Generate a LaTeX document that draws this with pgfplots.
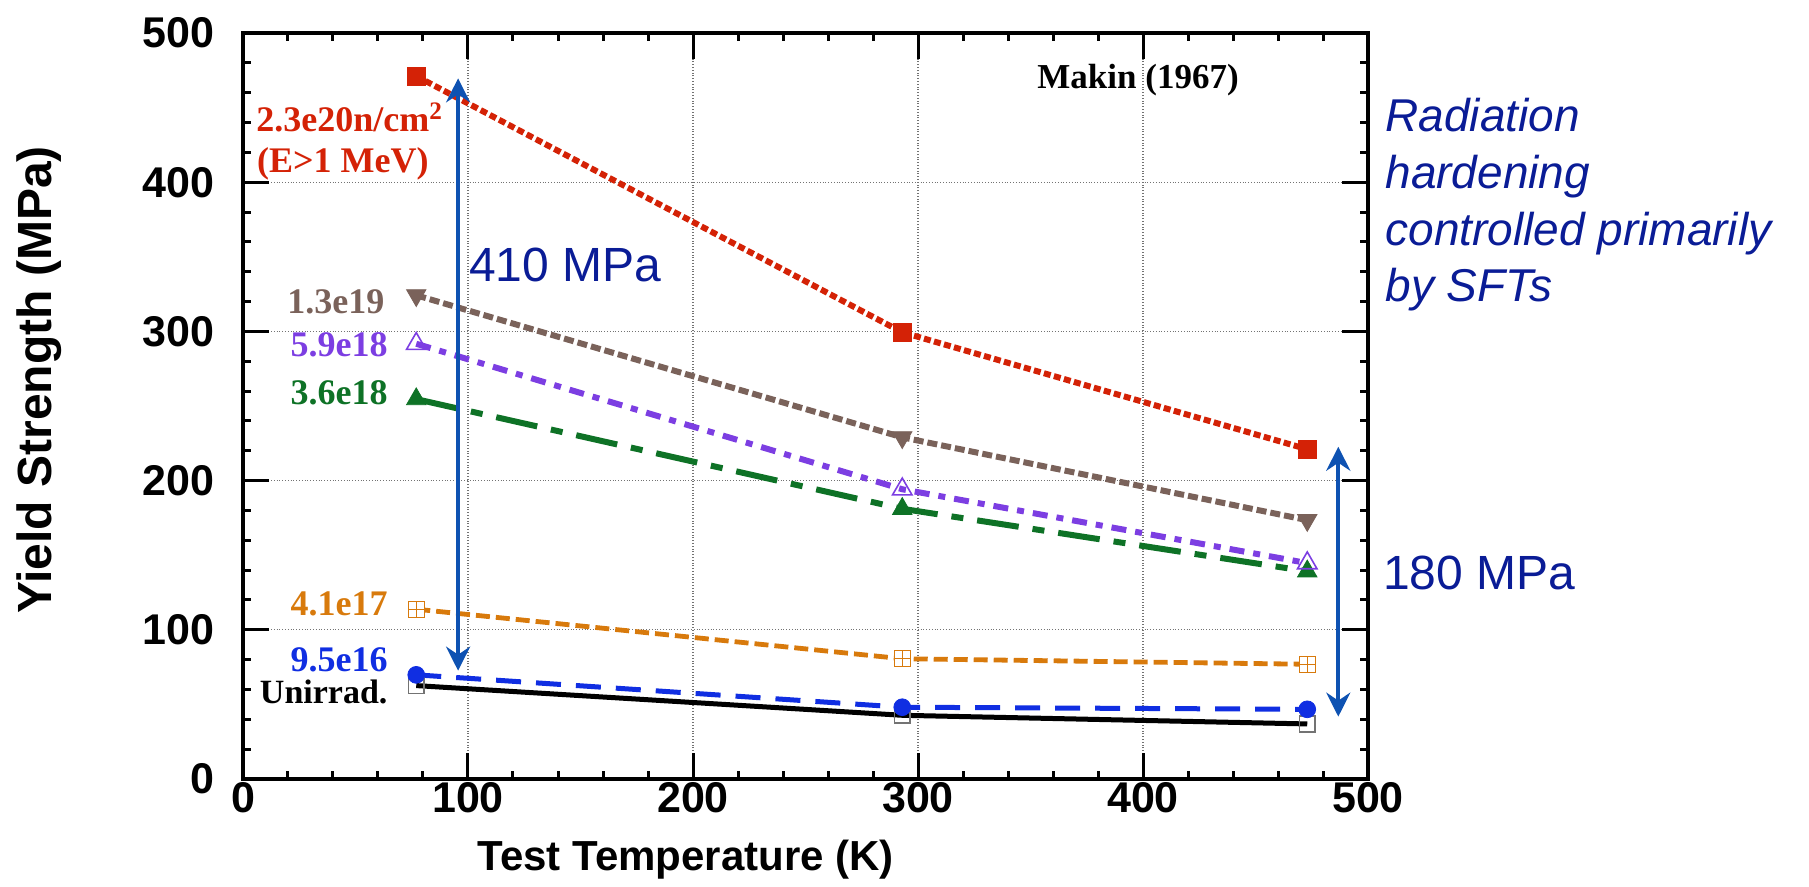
\documentclass[border=0pt]{standalone}
\usepackage{fontspec}
\setmainfont{Liberation Serif}
\setsansfont{Liberation Sans}
\usepackage{pgfplots}
\pgfplotsset{compat=1.18}
\usetikzlibrary{arrows.meta}

\definecolor{cred}{RGB}{212,34,6}
\definecolor{cbrown}{RGB}{122,98,90}
\definecolor{cpurple}{RGB}{124,62,226}
\definecolor{cgreen}{RGB}{14,114,38}
\definecolor{corange}{RGB}{216,122,12}
\definecolor{cblue}{RGB}{16,46,226}
\definecolor{carrow}{RGB}{14,82,178}
\definecolor{cnavy}{RGB}{10,28,150}

\pgfdeclareplotmark{boxplus}{%
  \pgfpathrectangle{\pgfqpoint{-\pgfplotmarksize}{-\pgfplotmarksize}}{\pgfqpoint{2\pgfplotmarksize}{2\pgfplotmarksize}}%
  \pgfusepathqfillstroke
  \pgfpathmoveto{\pgfqpoint{-\pgfplotmarksize}{0pt}}\pgfpathlineto{\pgfqpoint{\pgfplotmarksize}{0pt}}%
  \pgfpathmoveto{\pgfqpoint{0pt}{-\pgfplotmarksize}}\pgfpathlineto{\pgfqpoint{0pt}{\pgfplotmarksize}}%
  \pgfusepathqstroke}

\newcommand{\lab}{\bfseries\fontsize{18}{20}\selectfont}
\newcommand{\ann}{\sffamily\fontsize{24}{28}\selectfont}

\begin{document}
\begin{tikzpicture}
\useasboundingbox (-121.5pt,-54pt) rectangle (783pt,389.5pt);
\begin{axis}[
  scale only axis, width=562.5pt, height=373pt,
  xmin=0, xmax=500, ymin=0, ymax=500,
  xtick={0,100,...,500}, ytick={0,100,...,500},
  minor x tick num=4, minor y tick num=4,
  tick align=inside, xtick pos=both, ytick pos=both,
  xticklabel pos=lower, yticklabel pos=left,
  major tick length=13pt, minor tick length=4pt,
  axis line style={line width=1.75pt},
  tick style={black, line width=1.5pt},
  grid=major, major grid style={black!55, densely dotted, line width=0.6pt},
  ticklabel style={font=\sffamily\bfseries\fontsize{21.5}{24}\selectfont},
  /pgf/number format/assume math mode=true,
  yticklabel style={xshift=-11pt},
  xticklabel style={yshift=2pt},
  xlabel={Test Temperature (K)},
  ylabel={Yield Strength (MPa)},
  xlabel style={font=\sffamily\bfseries\fontsize{21}{24}\selectfont, at={(axis description cs:0.3936,-0.108)}, anchor=center},
  ylabel style={font=\sffamily\bfseries\fontsize{24}{28}\selectfont, at={(axis description cs:-0.1814,0.5348)}, anchor=center},
  clip=false,
]
% Unirradiated
\addplot[black, line width=2.5pt, mark=square, mark size=3.9pt, mark options={solid, fill=white, draw=black!55, line width=0.8pt}]
  coordinates {(77,62.6) (293,42.7) (473,36.9)};
% 9.5e16
\addplot[cblue, line width=2.5pt, dash pattern=on 12.5pt off 7.5pt, mark=*, mark size=4.2pt, mark options={solid, fill=cblue, line width=0.4pt}]
  coordinates {(77,69.8) (293,48.1) (473,46.7)};
% 4.1e17
\addplot[corange, line width=2.4pt, dash pattern=on 7pt off 3pt, mark=boxplus, mark size=4pt, mark options={solid, fill=white, line width=0.7pt}]
  coordinates {(77,113.8) (293,80.6) (473,76.9)};
% 3.6e18
\addplot[cgreen, line width=3pt, dash pattern=on 21pt off 7pt on 6pt off 7pt, mark=triangle*, mark size=5.6pt, mark options={solid, fill=cgreen, line width=0.4pt}]
  coordinates {(77,254.6) (293,181.1) (473,139.2)};
% 5.9e18
\addplot[cpurple, line width=3pt, dash pattern=on 7.5pt off 4.5pt on 3.5pt off 4.5pt, mark=triangle, mark size=5.6pt, mark options={solid, fill=white, line width=0.8pt}]
  coordinates {(77,291.7) (293,194.2) (473,144.7)};
% 1.3e19
\addplot[cbrown, line width=3pt, dash pattern=on 5pt off 2pt, mark=triangle*, mark size=5.6pt, mark options={solid, rotate=180, fill=cbrown, line width=0.4pt}]
  coordinates {(77,324.2) (293,229.0) (473,173.5)};
% 2.3e20
\addplot[cred, line width=3pt, dash pattern=on 3.5pt off 1.7pt, mark=square*, mark size=4.5pt, mark options={solid, fill=cred, line width=0.4pt}]
  coordinates {(77,471.1) (293,299.4) (473,221.0)};

% series labels
\node[anchor=base west, text=cred, inner sep=0pt] at (axis cs:5.8,433.8) {\lab 2.3e20n/cm\textsuperscript{2}};
\node[anchor=base west, text=cred, inner sep=0pt] at (axis cs:6.1,406.2) {\lab (E>1 MeV)};
\node[anchor=base east, text=cbrown, inner sep=0pt] at (axis cs:63,311.9) {\lab 1.3e19};
\node[anchor=base east, text=cpurple, inner sep=0pt] at (axis cs:64.4,283.0) {\lab 5.9e18};
\node[anchor=base east, text=cgreen, inner sep=0pt] at (axis cs:64.4,250.7) {\lab 3.6e18};
\node[anchor=base east, text=corange, inner sep=0pt] at (axis cs:64.4,109.9) {\lab 4.1e17};
\node[anchor=base east, text=cblue, inner sep=0pt] at (axis cs:64.4,71.9) {\lab 9.5e16};
\node[anchor=base east, text=black, inner sep=0pt] at (axis cs:64.4,50.7) {\bfseries\fontsize{17}{20}\selectfont Unirrad.};
\node[anchor=base, text=black, inner sep=0pt] at (axis cs:397.8,462.9) {\bfseries\fontsize{17.5}{20}\selectfont Makin (1967)};

% arrows
\draw[carrow, line width=2pt, {Stealth[length=12pt,width=12pt,inset=4pt]}-{Stealth[length=12pt,width=12pt,inset=4pt]}]
  (axis cs:95.6,72.6) -- (axis cs:95.6,469.6);
\draw[carrow, line width=2pt, {Stealth[length=12pt,width=12pt,inset=4pt]}-{Stealth[length=12pt,width=12pt,inset=4pt]}]
  (axis cs:486.8,41.8) -- (axis cs:486.8,222.7);

% annotations
\node[anchor=base west, text=cnavy, inner sep=0pt] at (axis cs:100.4,333.3) {\ann 410 MPa};
\node[anchor=base west, text=cnavy, inner sep=0pt] at (axis cs:506.5,126.7) {\ann 180 MPa};
\node[anchor=base west, text=cnavy, inner sep=0pt] at (axis cs:507.6,433.8) {\sffamily\itshape\fontsize{23}{28}\selectfont Radiation};
\node[anchor=base west, text=cnavy, inner sep=0pt] at (axis cs:507.6,395.8) {\sffamily\itshape\fontsize{23}{28}\selectfont hardening};
\node[anchor=base west, text=cnavy, inner sep=0pt] at (axis cs:507.6,357.8) {\sffamily\itshape\fontsize{23}{28}\selectfont controlled primarily};
\node[anchor=base west, text=cnavy, inner sep=0pt] at (axis cs:507.6,319.8) {\sffamily\itshape\fontsize{23}{28}\selectfont by SFTs};
\end{axis}
\end{tikzpicture}
\end{document}
